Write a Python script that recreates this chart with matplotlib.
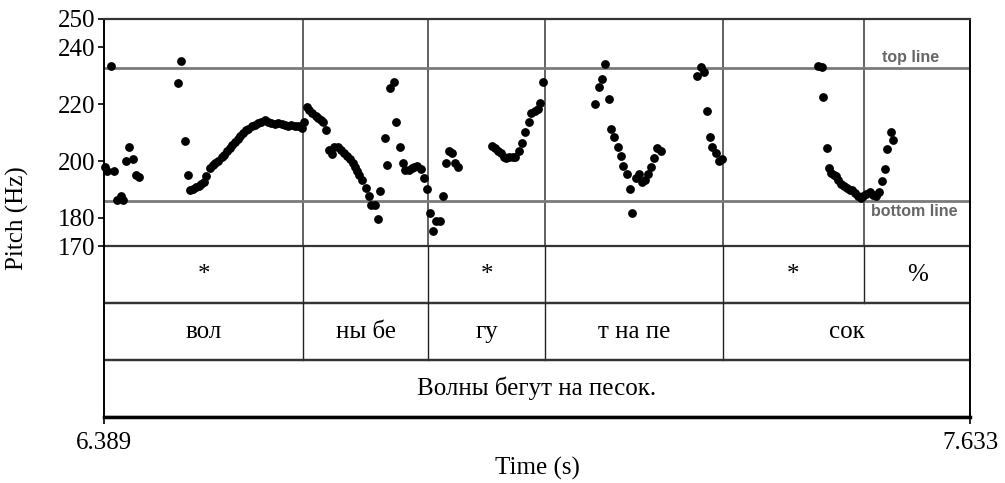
import matplotlib
matplotlib.use('Agg')
import matplotlib.pyplot as plt

# pitch track (time in s, f0 in Hz)
pitch_t = [
    6.390, 6.393, 6.399, 6.404, 6.408, 6.413, 6.417, 6.421, 6.425, 6.430, 6.435, 6.439,
    6.496, 6.500, 6.505, 6.509, 6.513, 6.517, 6.521, 6.525, 6.529, 6.532, 6.536, 6.541,
    6.545, 6.548, 6.553, 6.558, 6.561, 6.566, 6.570, 6.573, 6.577, 6.581, 6.585, 6.589,
    6.593, 6.596, 6.601, 6.606, 6.610, 6.615, 6.620, 6.625, 6.629, 6.634, 6.639, 6.644,
    6.649, 6.653, 6.658, 6.663, 6.668, 6.673, 6.677, 6.681, 6.684, 6.688, 6.693, 6.696,
    6.700, 6.704, 6.708, 6.712, 6.717, 6.720, 6.725, 6.730, 6.734, 6.738, 6.742, 6.746,
    6.749, 6.753, 6.756, 6.760, 6.765, 6.769, 6.773, 6.778, 6.783, 6.786, 6.792, 6.796,
    6.800, 6.805, 6.809, 6.814, 6.819, 6.822, 6.827, 6.831, 6.835, 6.839, 6.845, 6.849,
    6.853, 6.858, 6.862, 6.866, 6.871, 6.876, 6.880, 6.885, 6.889, 6.893, 6.898,
    6.946, 6.950, 6.955, 6.959, 6.963, 6.967, 6.971, 6.976, 6.980, 6.985, 6.990, 6.994,
    6.999, 7.003, 7.008, 7.012, 7.016, 7.020,
    7.095, 7.100, 7.105, 7.109, 7.114, 7.118, 7.122, 7.127, 7.131, 7.135, 7.140, 7.144,
    7.148, 7.153, 7.158, 7.162, 7.166, 7.171, 7.175, 7.179, 7.184, 7.189,
    7.241, 7.246, 7.251, 7.255, 7.259, 7.263, 7.268, 7.272, 7.277,
    7.415, 7.420, 7.422, 7.427, 7.430, 7.434, 7.437, 7.441, 7.444, 7.448, 7.452, 7.456,
    7.460, 7.464, 7.468, 7.472, 7.476, 7.479, 7.484, 7.489, 7.494, 7.498, 7.502, 7.506,
    7.511, 7.514, 7.519, 7.523,
]
pitch_hz = [
    198.1, 196.6, 233.4, 196.7, 186.4, 187.6, 186.2, 200.1, 205.0, 200.6, 195.1, 194.5,
    227.4, 235.1, 207.2, 195.2, 189.7, 190.3, 190.9, 191.4, 192.0, 192.5, 194.6, 197.6,
    198.5, 199.2, 200.0, 201.6, 202.2, 203.4, 204.6, 205.7, 206.9, 207.9, 208.9, 209.8,
    210.8, 211.2, 212.2, 212.8, 213.4, 213.9, 214.3, 213.9, 213.4, 213.2, 213.4, 213.1,
    212.8, 212.5, 212.8, 212.5, 212.2, 211.6, 213.9, 219.0, 218.0, 217.1, 215.9, 215.1,
    214.5, 213.6, 211.0, 204.0, 202.6, 205.1, 204.8, 204.0, 203.0, 201.9, 200.7, 199.3,
    197.9, 196.6, 195.2, 193.4, 190.5, 187.6, 184.6, 184.6, 179.6, 189.6, 208.3, 198.8,
    225.9, 227.8, 213.6, 204.8, 199.5, 196.9, 196.9, 197.5, 197.9, 198.3, 197.2, 194.0,
    190.2, 181.6, 175.5, 178.8, 179.0, 187.7, 199.3, 203.7, 202.8, 199.3, 198.1,
    205.5, 204.6, 203.7, 202.8, 201.6, 201.1, 201.4, 201.4, 201.6, 203.7, 206.3, 210.2,
    213.6, 216.9, 217.7, 218.3, 220.4, 228.0,
    220.0, 226.2, 228.8, 234.1, 221.8, 211.2, 208.4, 204.9, 201.9, 198.3, 195.4, 190.3,
    181.7, 194.2, 195.5, 192.5, 193.4, 195.4, 198.1, 201.2, 204.6, 203.7,
    230.0, 233.0, 231.5, 217.8, 208.6, 205.1, 202.8, 199.9, 200.7,
    233.5, 233.0, 222.5, 204.6, 197.5, 196.0, 195.2, 194.6, 193.4, 192.0, 191.1, 190.5,
    189.9, 189.7, 188.8, 187.8, 187.2, 187.6, 188.5, 189.0, 188.2, 187.6, 189.3, 193.1,
    197.1, 204.2, 210.1, 207.5,
]

t_start, t_end = 6.389, 7.633
top_line, bottom_line = 232.9, 186.0
y_ticks = [170, 180, 200, 220, 240, 250]

# textgrid tiers
tier1_edges = [6.389, 6.675, 6.855, 7.023, 7.278, 7.481, 7.633]
tier1_labels = ['*', '', '*', '', '*', '%']
tier2_edges = [6.389, 6.675, 6.855, 7.023, 7.278, 7.633]
tier2_labels = ['вол', 'ны бе', 'гу', 'т на пе', 'сок']
tier3_edges = [6.389, 7.633]
tier3_labels = ['Волны бегут на песок.']

plt.rcParams['font.family'] = ['Liberation Serif', 'DejaVu Serif']

fig = plt.figure(figsize=(10.05, 4.83), dpi=100)
ax = fig.add_axes([104 / 1005, 1 - 417 / 483, 866 / 1005, 398 / 483])

# pitch area 250..170 Hz, each tier gets a 20 Hz band below it
tiers = [(tier1_edges, tier1_labels, 170, 150),
         (tier2_edges, tier2_labels, 150, 130),
         (tier3_edges, tier3_labels, 130, 110)]

ax.set_xlim(t_start, t_end)
ax.set_ylim(110, 250)

# boundaries through the pitch area
for b in tier1_edges[1:-1]:
    ax.plot([b, b], [170, 250], color='#555555', lw=1.3, zorder=1)

ax.axhline(top_line, color='#7a7a7a', lw=2, zorder=1)
ax.axhline(bottom_line, color='#7a7a7a', lw=2, zorder=1)
ax.text(7.548, top_line + 1.0, 'top line', ha='center', va='bottom', fontsize=11.5,
        fontweight='bold', color='#666666', family='Liberation Sans')
ax.text(7.553, bottom_line - 1.0, 'bottom line', ha='center', va='top', fontsize=11.5,
        fontweight='bold', color='#666666', family='Liberation Sans')

for edges, labels, ytop, ybot in tiers:
    ax.axhline(ybot, color='#222222', lw=1.6, zorder=1)
    ax.axhline(ytop, color='#333333', lw=1.6, zorder=1)
    for b in edges[1:-1]:
        ax.plot([b, b], [ybot, ytop], color='#222222', lw=1.0, zorder=1)
    for i, lab in enumerate(labels):
        ax.text((edges[i] + edges[i + 1]) / 2, (ytop + ybot) / 2, lab,
                ha='center', va='center', fontsize=18)

ax.plot(pitch_t, pitch_hz, 'o', color='black', markersize=5.3, zorder=3, clip_on=False)

ax.set_yticks(y_ticks)
ax.set_yticklabels([str(v) for v in y_ticks])
ax.set_xticks([t_start, t_end])
ax.set_xticklabels(['6.389', '7.633'])
ax.tick_params(axis='y', direction='out', length=4, width=1.2, pad=2, labelsize=18)
ax.tick_params(axis='x', direction='out', length=5, width=1.2, pad=6, labelsize=18)

ax.spines['bottom'].set_linewidth(2.5)
ax.spines['top'].set_linewidth(1.6)
ax.spines['top'].set_color('#333333')
ax.spines['left'].set_linewidth(1.4)
ax.spines['right'].set_linewidth(1.4)

ax.set_xlabel('Time (s)', fontsize=18, va='center')
ax.xaxis.set_label_coords(0.5, -51 / 398)
ax.set_ylabel('Pitch (Hz)', fontsize=18, va='center')
ax.yaxis.set_label_coords(-86.5 / 866, 0.5)

fig.savefig('out.png', dpi=100)
